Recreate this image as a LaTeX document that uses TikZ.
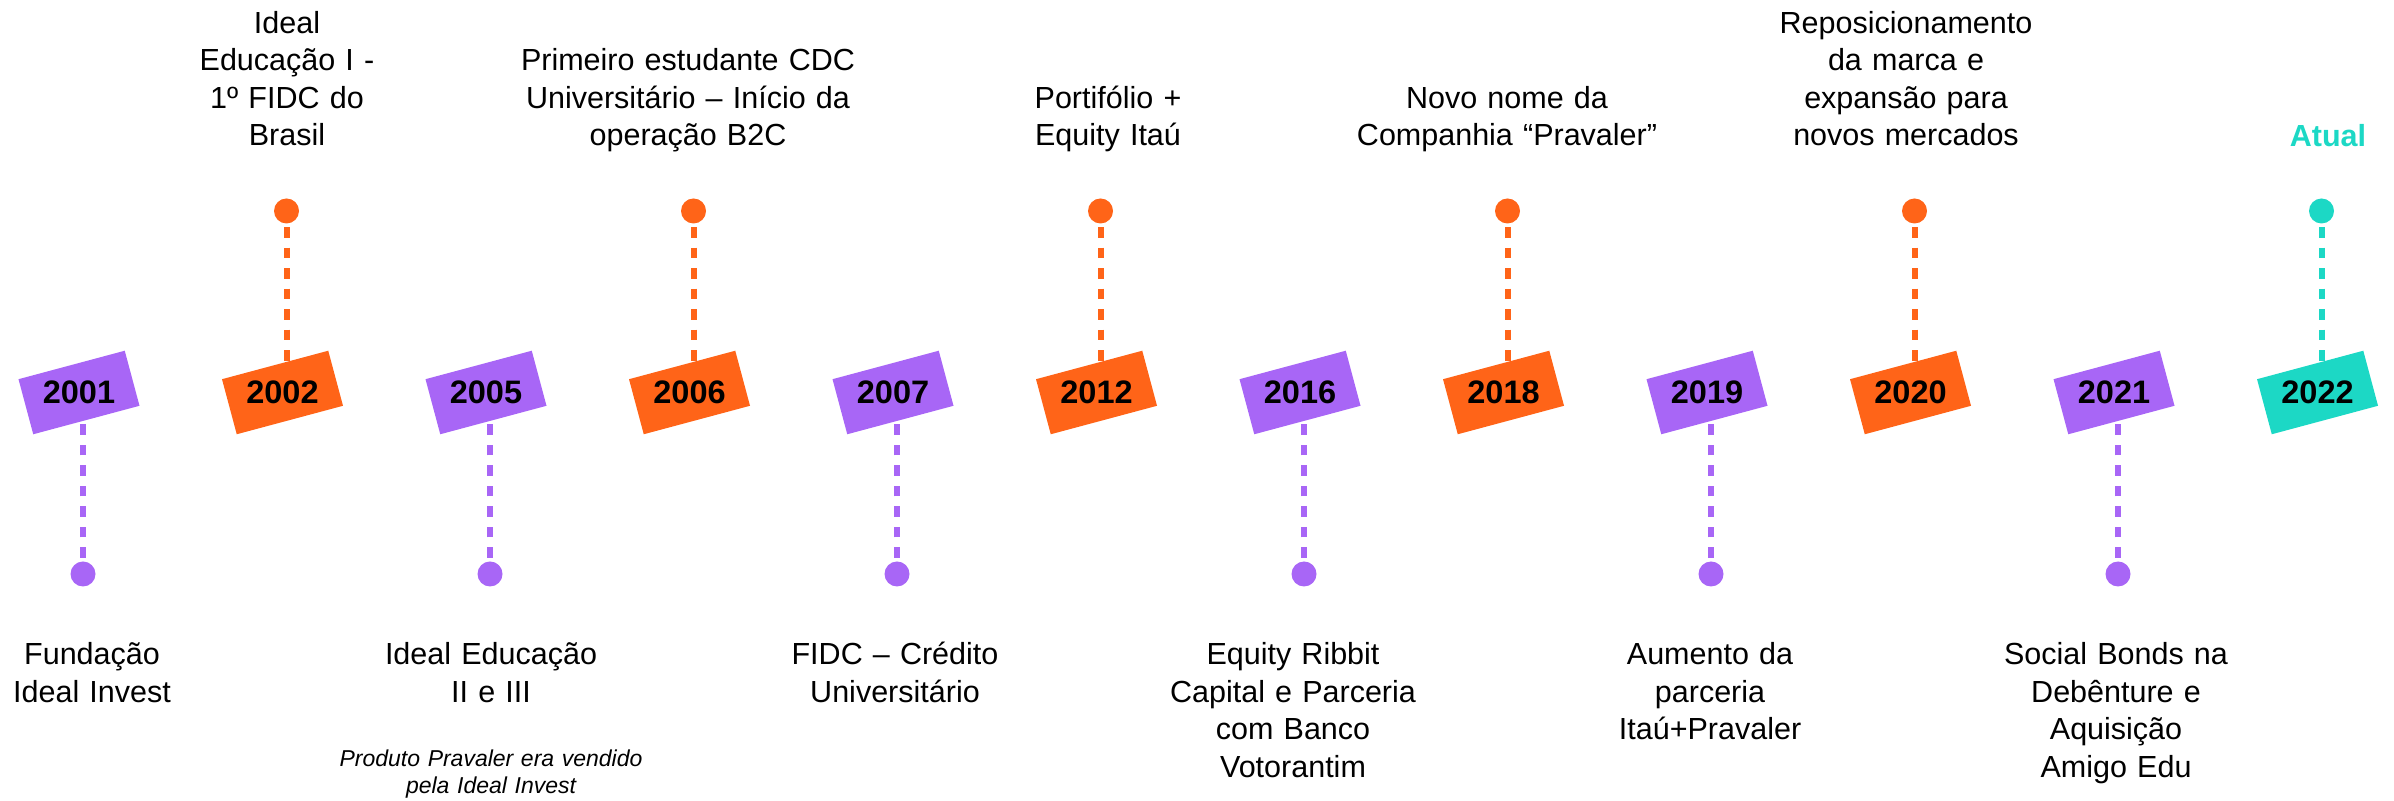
\documentclass[tikz,border=0pt]{standalone}
\usepackage{fontspec}
\setmainfont{Liberation Sans}
\definecolor{roxo}{HTML}{A866F6}
\definecolor{laranja}{HTML}{FF6418}
\definecolor{turquesa}{HTML}{1CD8C5}
\begin{document}
\begin{tikzpicture}[
    yearbox/.style={rectangle, fill=#1, rotate=15, minimum width=1.1cm, minimum height=0.57cm, inner sep=0pt},
    marker/.style={circle, fill=#1, minimum size=0.25cm, inner sep=0pt},
    stem/.style={#1, line width=0.06cm, dash pattern=on 0.105cm off 0.1cm, shorten <=0.03cm},
    yeartext/.style={inner sep=0pt, font=\fontsize{9.25}{11}\selectfont\bfseries},
    event/.style={align=center, text width=3.8cm, anchor=base, inner sep=0pt, font=\fontsize{8.68}{10.67}\selectfont},
    note/.style={align=center, text width=3.8cm, anchor=base, inner sep=0pt, font=\fontsize{6.54}{7.4}\selectfont\itshape},
  ]
    \useasboundingbox (0,0) rectangle (23.94,-8.01);

    % Year boxes
    \node[yearbox=roxo] (b2001) at (0.79,-3.925) {};
    \node[yearbox=laranja] (b2002) at (2.825,-3.925) {};
    \node[yearbox=roxo] (b2005) at (4.86,-3.925) {};
    \node[yearbox=laranja] (b2006) at (6.895,-3.925) {};
    \node[yearbox=roxo] (b2007) at (8.93,-3.925) {};
    \node[yearbox=laranja] (b2012) at (10.965,-3.925) {};
    \node[yearbox=roxo] (b2016) at (13.0,-3.925) {};
    \node[yearbox=laranja] (b2018) at (15.035,-3.925) {};
    \node[yearbox=roxo] (b2019) at (17.07,-3.925) {};
    \node[yearbox=laranja] (b2020) at (19.105,-3.925) {};
    \node[yearbox=roxo] (b2021) at (21.14,-3.925) {};
    \node[yearbox=turquesa] (b2022) at (23.175,-3.925) {};

    % Markers
    \node[marker=roxo] (d2001) at (0.83,-5.74) {};
    \node[marker=laranja] (d2002) at (2.865,-2.11) {};
    \node[marker=roxo] (d2005) at (4.90,-5.74) {};
    \node[marker=laranja] (d2006) at (6.935,-2.11) {};
    \node[marker=roxo] (d2007) at (8.97,-5.74) {};
    \node[marker=laranja] (d2012) at (11.005,-2.11) {};
    \node[marker=roxo] (d2016) at (13.04,-5.74) {};
    \node[marker=laranja] (d2018) at (15.075,-2.11) {};
    \node[marker=roxo] (d2019) at (17.11,-5.74) {};
    \node[marker=laranja] (d2020) at (19.145,-2.11) {};
    \node[marker=roxo] (d2021) at (21.18,-5.74) {};
    \node[marker=turquesa] (d2022) at (23.215,-2.11) {};

    % Stems
    \draw[stem=roxo] (d2001) -- (d2001 |- b2001.center);
    \draw[stem=laranja] (d2002) -- (d2002 |- b2002.center);
    \draw[stem=roxo] (d2005) -- (d2005 |- b2005.center);
    \draw[stem=laranja] (d2006) -- (d2006 |- b2006.center);
    \draw[stem=roxo] (d2007) -- (d2007 |- b2007.center);
    \draw[stem=laranja] (d2012) -- (d2012 |- b2012.center);
    \draw[stem=roxo] (d2016) -- (d2016 |- b2016.center);
    \draw[stem=laranja] (d2018) -- (d2018 |- b2018.center);
    \draw[stem=roxo] (d2019) -- (d2019 |- b2019.center);
    \draw[stem=laranja] (d2020) -- (d2020 |- b2020.center);
    \draw[stem=roxo] (d2021) -- (d2021 |- b2021.center);
    \draw[stem=turquesa] (d2022) -- (d2022 |- b2022.center);

    % Years
    \node[yeartext] (t2001) at (b2001.center) {2001};
    \node[yeartext] (t2002) at (b2002.center) {2002};
    \node[yeartext] (t2005) at (b2005.center) {2005};
    \node[yeartext] (t2006) at (b2006.center) {2006};
    \node[yeartext] (t2007) at (b2007.center) {2007};
    \node[yeartext] (t2012) at (b2012.center) {2012};
    \node[yeartext] (t2016) at (b2016.center) {2016};
    \node[yeartext] (t2018) at (b2018.center) {2018};
    \node[yeartext] (t2019) at (b2019.center) {2019};
    \node[yeartext] (t2020) at (b2020.center) {2020};
    \node[yeartext] (t2021) at (b2021.center) {2021};
    \node[yeartext] (t2022) at (b2022.center) {2022};

    % Events above
    \node[event] (e2002) at (2.87,-0.335) {Ideal\\Educação I -\\1º FIDC do\\Brasil};
    \node[event] (e2006) at (6.88,-0.71) {Primeiro estudante CDC\\Universitário – Início da\\operação B2C};
    \node[event] (e2012) at (11.08,-1.085) {Portifólio +\\Equity Itaú};
    \node[event] (e2018) at (15.07,-1.085) {Novo nome da\\Companhia “Pravaler”};
    \node[event] (e2020) at (19.06,-0.335) {Reposicionamento\\da marca e\\expansão para\\novos mercados};
    \node[event, text=turquesa, font=\fontsize{8.68}{10.67}\selectfont\bfseries] (e2022) at (23.28,-1.47) {Atual};

    % Events below
    \node[event] (e2001) at (0.92,-6.65) {Fundação\\Ideal Invest};
    \node[event] (e2005) at (4.91,-6.65) {Ideal Educação\\II e III};
    \node[note] (n2005) at (4.91,-7.67) {Produto Pravaler era vendido\\pela Ideal Invest};
    \node[event] (e2007) at (8.95,-6.65) {FIDC – Crédito\\Universitário};
    \node[event] (e2016) at (12.93,-6.65) {Equity Ribbit\\Capital e Parceria\\com Banco\\Votorantim};
    \node[event] (e2019) at (17.10,-6.65) {Aumento da\\parceria\\Itaú+Pravaler};
    \node[event] (e2021) at (21.16,-6.65) {Social Bonds na\\Debênture e\\Aquisição\\Amigo Edu};
\end{tikzpicture}
\end{document}
